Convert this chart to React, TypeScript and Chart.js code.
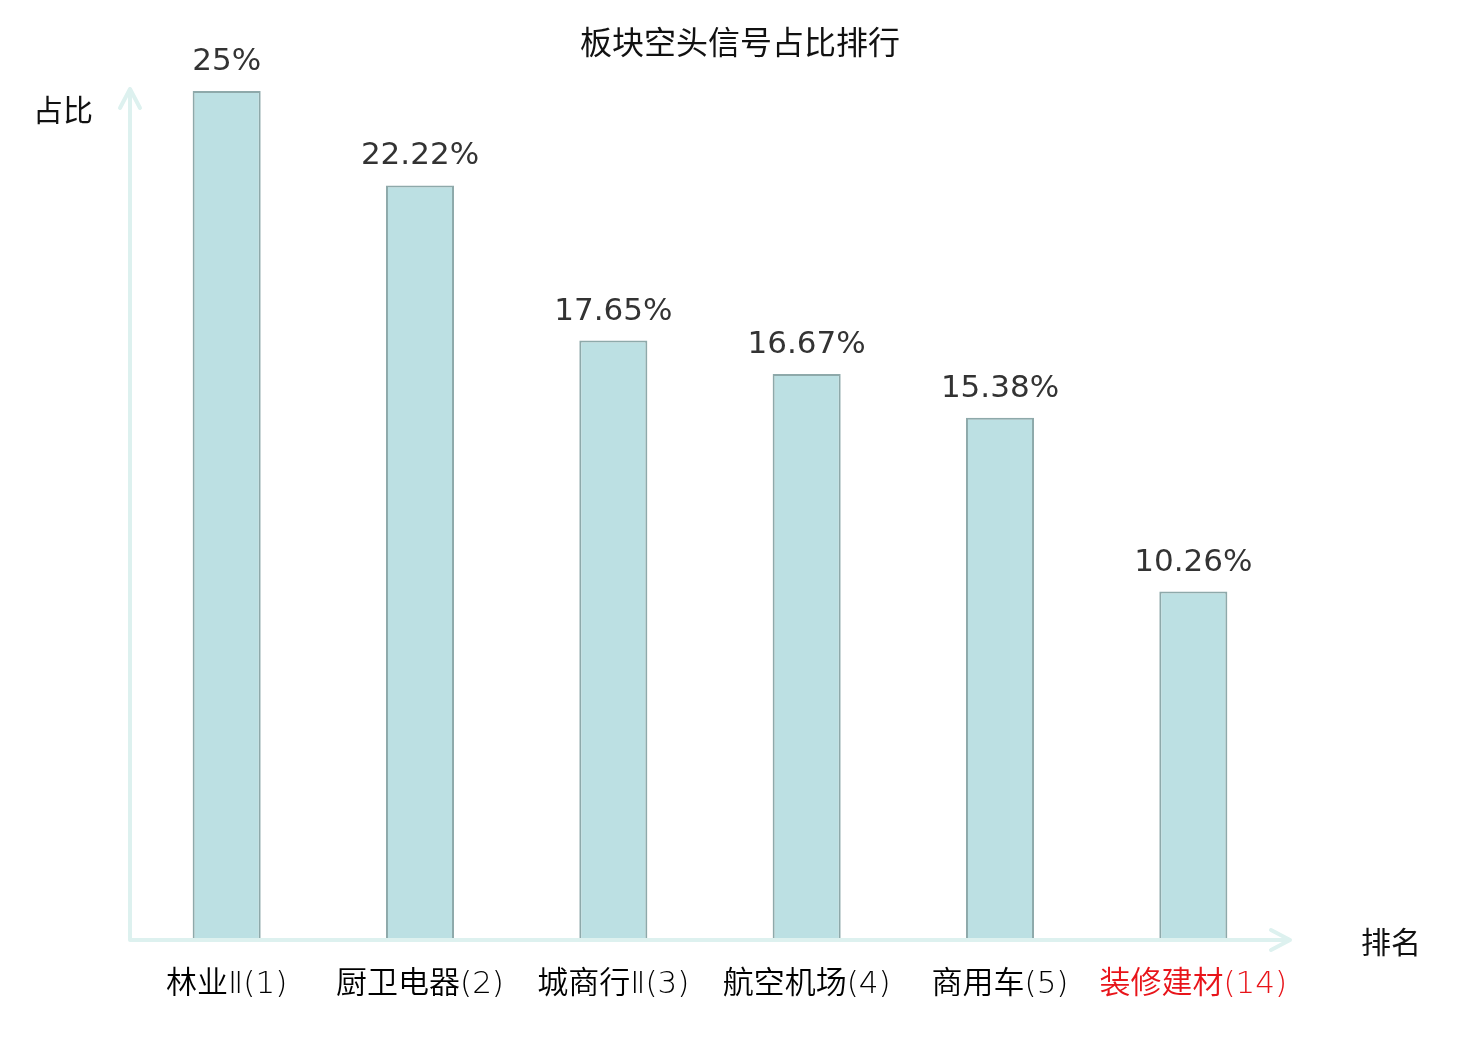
import React, { useEffect, useRef } from 'react';
import Chart from 'chart.js/auto';

const categories = ['林业Ⅱ(1)', '厨卫电器(2)', '城商行Ⅱ(3)', '航空机场(4)', '商用车(5)', '装修建材(14)'];
const shares = [25, 22.22, 17.65, 16.67, 15.38, 10.26];
const highlighted = [false, false, false, false, false, true];

const FONT = '"Noto Sans CJK SC", "DejaVu Sans", sans-serif';
const TICK_FONT = '"DejaVu Sans", "Noto Sans CJK SC", sans-serif';
const AXIS_COLOR = '#ddf1ef';

const decorPlugin = {
  id: 'decor',
  afterDatasetsDraw(chart: any) {
    const { ctx, chartArea } = chart;
    const { left, right, top, bottom } = chartArea;
    ctx.save();
    // axes with arrows
    ctx.strokeStyle = AXIS_COLOR;
    ctx.lineWidth = 4;
    ctx.lineCap = 'round';
    ctx.lineJoin = 'round';
    ctx.beginPath();
    ctx.moveTo(left, bottom);
    ctx.lineTo(left, top - 2);
    ctx.moveTo(left - 10, top + 17);
    ctx.lineTo(left, top - 2);
    ctx.lineTo(left + 10, top + 17);
    ctx.moveTo(left, bottom);
    ctx.lineTo(right, bottom);
    ctx.moveTo(right - 19, bottom - 10);
    ctx.lineTo(right, bottom);
    ctx.lineTo(right - 19, bottom + 10);
    ctx.stroke();

    // value labels
    const meta = chart.getDatasetMeta(0);
    ctx.fillStyle = '#333';
    ctx.font = `31px "DejaVu Sans", sans-serif`;
    ctx.textAlign = 'center';
    ctx.textBaseline = 'middle';
    meta.data.forEach((bar: any, i: number) => {
      ctx.fillText(`${shares[i]}%`, bar.x, bar.y - 29);
    });

    // title and axis names
    ctx.fillStyle = '#111';
    ctx.font = `32px ${FONT}`;
    ctx.fillText('板块空头信号占比排行', 740, 42);
    ctx.font = `30px ${FONT}`;
    ctx.fillText('占比', 63, 110);
    ctx.fillText('排名', 1391, 942);
    ctx.restore();
  },
};

export default function App() {
  const canvasRef = useRef<HTMLCanvasElement | null>(null);

  useEffect(() => {
    document.body.style.margin = '0';
    const ctx = canvasRef.current?.getContext('2d');
    if (!ctx) return;
    const chart = new Chart(ctx, {
      type: 'bar',
      data: {
        labels: categories,
        datasets: [
          {
            data: shares,
            backgroundColor: '#bce0e3',
            borderColor: '#8ea9aa',
            borderWidth: 2,
            barPercentage: 0.352,
            categoryPercentage: 1,
          },
        ],
      },
      options: {
        animation: false,
        responsive: false,
        layout: { padding: { left: 130, right: 190, top: 91, bottom: 0 } },
        plugins: { legend: { display: false }, tooltip: { enabled: false } },
        scales: {
          y: { display: false, min: 0, max: 25 },
          x: {
            grid: { display: false },
            border: { display: false },
            ticks: {
              padding: 18,
              font: { size: 31, family: TICK_FONT, weight: 350 },
              color: (c: any) => (highlighted[c.index] ? '#e8141a' : '#000'),
              maxRotation: 0,
              autoSkip: false,
            },
            afterFit: (scale: any) => {
              scale.height = 100;
            },
          },
        },
      },
      plugins: [decorPlugin],
    });
    return () => chart.destroy();
  }, []);

  return (
    <div style={{ width: 1480, height: 1040, background: '#fff' }}>
      <canvas ref={canvasRef} width={1480} height={1040} style={{ width: 1480, height: 1040 }} />
    </div>
  );
}
